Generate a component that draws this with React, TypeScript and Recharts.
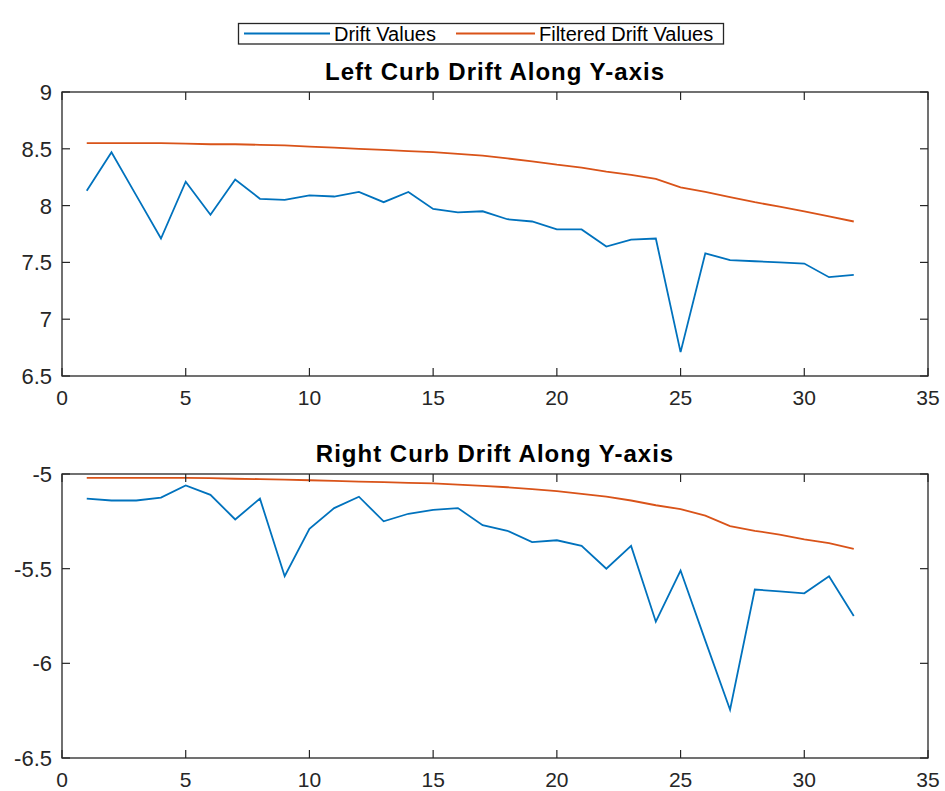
import { LineChart, Line, XAxis, YAxis } from "recharts";

const samples = [
  1, 2, 3, 4, 5, 6, 7, 8, 9, 10, 11, 12, 13, 14, 15, 16,
  17, 18, 19, 20, 21, 22, 23, 24, 25, 26, 27, 28, 29, 30, 31, 32,
];

const leftDrift = [
  8.13, 8.47, 8.09, 7.71, 8.21, 7.92, 8.23, 8.06, 8.05, 8.09, 8.08, 8.12,
  8.03, 8.12, 7.97, 7.94, 7.95, 7.88, 7.86, 7.79, 7.79, 7.64, 7.7, 7.71,
  6.71, 7.58, 7.52, 7.51, 7.5, 7.49, 7.37, 7.39,
];

const leftFiltered = [
  8.55, 8.55, 8.55, 8.55, 8.545, 8.54, 8.54, 8.535, 8.53, 8.52, 8.51, 8.5,
  8.49, 8.48, 8.47, 8.455, 8.44, 8.415, 8.39, 8.36, 8.335, 8.3, 8.27, 8.235,
  8.16, 8.12, 8.075, 8.03, 7.99, 7.95, 7.905, 7.86,
];

const rightDrift = [
  -5.13, -5.14, -5.14, -5.125, -5.06, -5.11, -5.24, -5.13, -5.54, -5.29,
  -5.18, -5.12, -5.25, -5.21, -5.19, -5.18, -5.27, -5.3, -5.36, -5.35,
  -5.38, -5.5, -5.38, -5.78, -5.51, -5.88, -6.245, -5.61, -5.62, -5.63,
  -5.54, -5.75,
];

const rightFiltered = [
  -5.02, -5.02, -5.02, -5.02, -5.02, -5.022, -5.025, -5.027, -5.03, -5.033,
  -5.036, -5.04, -5.043, -5.047, -5.05, -5.056, -5.063, -5.07, -5.08, -5.09,
  -5.105, -5.12, -5.14, -5.165, -5.185, -5.22, -5.275, -5.3, -5.32, -5.345,
  -5.365, -5.395,
];

const xTicks = [0, 5, 10, 15, 20, 25, 30, 35];
const leftTicks = [6.5, 7, 7.5, 8, 8.5, 9];
const rightTicks = [-6.5, -6, -5.5, -5];

const BLUE = "#0072BD";
const ORANGE = "#D95319";
const AXIS = "#262626";
const FONT = "'Liberation Sans', Arial, sans-serif";

// plot box edges (px)
const PLOT_L = 62;
const PLOT_R = 928;
const TICK_LEN = 8;

function Panel({ drift, filtered, yTicks, top, height, plotTop, plotBottom }: any) {
  const data = samples.map((s, i) => ({ x: s, drift: drift[i], filtered: filtered[i] }));
  const domain = [yTicks[0], yTicks[yTicks.length - 1]];
  const pt = plotTop - top;
  const pb = plotBottom - top;

  const XTick = ({ x, payload }: any) => (
    <g>
      <line x1={x} x2={x} y1={pb} y2={pb - TICK_LEN} stroke={AXIS} strokeWidth={1.2} />
      <line x1={x} x2={x} y1={pt} y2={pt + TICK_LEN} stroke={AXIS} strokeWidth={1.2} />
      <text
        x={x}
        y={pb + 29}
        textAnchor="middle"
        fontSize={21}
        fontFamily={FONT}
        fill={AXIS}
      >
        {payload.value}
      </text>
    </g>
  );

  const YTick = ({ y, payload }: any) => (
    <g>
      <line x1={PLOT_L} x2={PLOT_L + TICK_LEN} y1={y} y2={y} stroke={AXIS} strokeWidth={1.2} />
      <line x1={PLOT_R} x2={PLOT_R - TICK_LEN} y1={y} y2={y} stroke={AXIS} strokeWidth={1.2} />
      <text
        x={52}
        y={y}
        dy="0.36em"
        textAnchor="end"
        fontSize={22}
        fontFamily={FONT}
        fill={AXIS}
      >
        {payload.value}
      </text>
    </g>
  );

  return (
    <div style={{ position: "absolute", left: 0, top }}>
      <LineChart
        width={945}
        height={height}
        data={data}
        margin={{ top: pt, right: 945 - PLOT_R, left: 0, bottom: height - pb - 30 }}
      >
        <XAxis
          dataKey="x"
          type="number"
          domain={[0, 35]}
          ticks={xTicks}
          height={30}
          axisLine={false}
          tickLine={false}
          tick={<XTick />}
          interval={0}
        />
        <YAxis
          type="number"
          domain={domain}
          ticks={yTicks}
          width={PLOT_L}
          axisLine={false}
          tickLine={false}
          tick={<YTick />}
          interval={0}
        />
        <Line
          dataKey="drift"
          stroke={BLUE}
          strokeWidth={1.8}
          dot={false}
          isAnimationActive={false}
        />
        <Line
          dataKey="filtered"
          stroke={ORANGE}
          strokeWidth={1.8}
          dot={false}
          isAnimationActive={false}
        />
      </LineChart>
    </div>
  );
}

export default function App() {
  return (
    <div
      style={{
        position: "absolute",
        left: 0,
        top: 0,
        width: 945,
        height: 791,
        background: "#fff",
        fontFamily: FONT,
      }}
    >
      <Panel
        drift={leftDrift}
        filtered={leftFiltered}
        yTicks={leftTicks}
        top={0}
        height={420}
        plotTop={92}
        plotBottom={376}
      />
      <Panel
        drift={rightDrift}
        filtered={rightFiltered}
        yTicks={rightTicks}
        top={420}
        height={371}
        plotTop={474}
        plotBottom={758}
      />

      {/* titles, legend, axes boxes */}
      <svg
        width={945}
        height={791}
        style={{ position: "absolute", left: 0, top: 0, pointerEvents: "none" }}
      >
        <rect x={PLOT_L} y={92} width={PLOT_R - PLOT_L} height={284} fill="none" stroke={AXIS} strokeWidth={1.3} />
        <rect x={PLOT_L} y={474} width={PLOT_R - PLOT_L} height={284} fill="none" stroke={AXIS} strokeWidth={1.3} />

        <text x={495} y={80} textAnchor="middle" fontSize={24} fontWeight="bold" fontFamily={FONT} letterSpacing={1} fill="#000">
          Left Curb Drift Along Y-axis
        </text>
        <text x={495} y={462} textAnchor="middle" fontSize={24} fontWeight="bold" fontFamily={FONT} letterSpacing={1} fill="#000">
          Right Curb Drift Along Y-axis
        </text>

        <rect x={238.5} y={23.5} width={485} height={20.5} fill="#fff" stroke={AXIS} strokeWidth={1.3} />
        <line x1={244} x2={330} y1={33.5} y2={33.5} stroke={BLUE} strokeWidth={1.8} />
        <text x={334} y={40.5} fontSize={20} fontFamily={FONT} fill="#000">
          Drift Values
        </text>
        <line x1={456} x2={535} y1={33.5} y2={33.5} stroke={ORANGE} strokeWidth={1.8} />
        <text x={539} y={40.5} fontSize={20} fontFamily={FONT} fill="#000">
          Filtered Drift Values
        </text>
      </svg>
    </div>
  );
}
